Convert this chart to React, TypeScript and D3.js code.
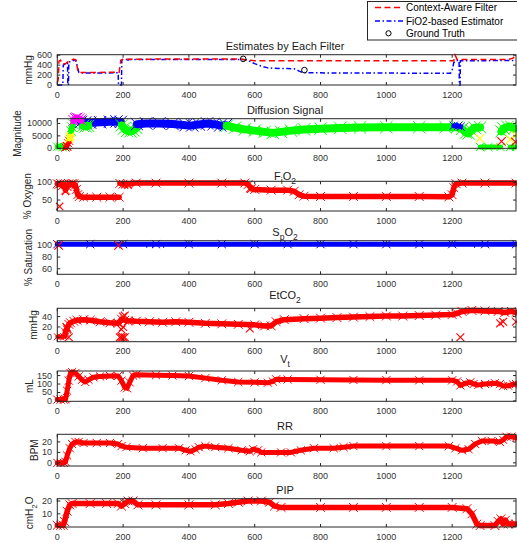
import React, { useRef, useEffect } from 'react';
import * as d3 from 'd3';

const xTicks = [0, 200, 400, 600, 800, 1000, 1200];
const xMax = 1394;

// Estimates by Each Filter (mmHg)
const contextAware = [[0, 50], [3, 120], [5, 480], [10, 500], [14, 430], [25, 430], [35, 480], [50, 520], [57, 500], [62, 300], [66, 250], [100, 250], [150, 255], [188, 255], [193, 500], [200, 520], [400, 522], [560, 522], [575, 500], [600, 490], [800, 490], [1000, 490], [1205, 490], [1209, 600], [1215, 515], [1300, 515], [1370, 515], [1385, 540], [1392, 600]];
const fio2Estimator = [[0, 0], [17, 0], [18, 400], [25, 430], [31, 450], [32, 0], [34, 0], [35, 460], [45, 480], [55, 510], [60, 400], [65, 260], [70, 240], [100, 240], [185, 245], [186, 0], [195, 0], [196, 500], [200, 510], [210, 515], [213, 470], [216, 515], [400, 515], [560, 515], [575, 510], [590, 460], [600, 430], [620, 380], [640, 345], [660, 335], [700, 330], [720, 325], [735, 280], [745, 255], [760, 245], [1000, 240], [1195, 235], [1200, 300], [1205, 450], [1212, 495], [1221, 495], [1222, 0], [1224, 0], [1225, 490], [1300, 490], [1394, 495]];
const groundTruth = [[565, 527], [751, 300]];

// Diffusion Signal
const diffGreenStart = [[0, 600], [8, 700], [16, 500], [24, 600]];
const diffRedRise = [[25, 300], [29, 900], [33, 2000], [36, 3000]];
const diffYellow = [[37, 3800], [40, 5000], [42, 6000]];
const diffGreenRise = [[42, 7000], [45, 8500], [48, 9800]];
const diffBlueA = [[72, 10600], [85, 10400], [100, 10300], [130, 10500], [160, 10700], [180, 10800], [193, 10600]];
const diffGreenBlob = [[78, 9000], [86, 8800], [94, 9000]];
const diffMagenta = [[50, 11200], [55, 12000], [60, 12200], [66, 11900], [72, 11400]];
const diffGreenDip = [[196, 9200], [203, 8000], [212, 7000], [222, 6800], [232, 7200], [240, 8200]];
const diffBlueB = [[242, 9700], [270, 10000], [310, 10000], [350, 9800], [390, 9300], [410, 9200], [430, 9600], [455, 10000], [475, 9700], [495, 9200], [512, 9300]];
const diffGreenLong = [[515, 9000], [540, 8300], [570, 7600], [600, 7100], [630, 6600], [655, 6200], [680, 6600], [710, 7100], [750, 7600], [800, 7900], [860, 8200], [920, 8400], [1000, 8500], [1100, 8500], [1180, 8500], [1215, 8500], [1230, 7800], [1242, 6300], [1250, 6000], [1258, 7200], [1268, 8300], [1285, 8400]];
const diffBlueC = [[1205, 9100], [1218, 9000], [1226, 8700]];
const diffGreenZeroA = [[1285, 500], [1310, 500], [1347, 500]];
const diffGreenEnd = [[1350, 6800], [1356, 8000], [1368, 8600], [1380, 8600], [1388, 8000]];
const diffGreenZeroB = [[1376, 500], [1394, 500]];
const diffYellowX = [[1284, 4000], [1377, 3600], [1393, 5200], [38, 4600]];
const diffRedX = [[1350, 2800], [1392, 2600], [30, 800]];

// FiO2 (% oxygen)
const fio2 = [[0, 96], [5, 94], [10, 97], [15, 90], [20, 95], [25, 78], [30, 88], [35, 96], [40, 93], [45, 97], [50, 96], [55, 92], [58, 80], [62, 65], [67, 60], [80, 58], [120, 58], [160, 58], [188, 58], [189, null], [190, 97], [200, 95], [215, 96], [240, 98], [300, 98], [400, 98], [500, 98], [570, 98], [580, 94], [590, 82], [600, 80], [650, 78], [700, 78], [720, 75], [735, 65], [750, 61], [800, 60], [900, 60], [1000, 60], [1100, 60], [1190, 59], [1200, 65], [1205, 85], [1212, 96], [1230, 98], [1300, 98], [1394, 98]];
const fio2X = [[7, 32], [25, 74], [205, 93], [215, 92], [585, 82]];

// SpO2 (% saturation)
const spo2 = [[0, 102], [100, 102], [200, 102], [300, 102], [400, 102], [500, 102], [600, 102], [700, 102], [800, 102], [900, 102], [1000, 102], [1100, 102], [1200, 102], [1300, 102], [1394, 102]];
const spo2Dips = [[272, 97.5], [290, 97.5], [323, 97.5], [1268, 97.5]];
const spo2X = [[4, 100], [186, 100]];

// EtCO2 (mmHg)
const etco2Zero = [[0, 1], [10, 1], [20, 1], [25, 2]];
const etco2 = [[25, 10], [30, 18], [35, 25], [40, 28], [50, 31], [60, 33], [80, 34], [100, 33], [130, 30], [160, 28], [185, 27], [195, 35], [205, 33], [215, 32], [240, 31], [280, 30], [320, 29], [360, 30], [400, 29], [450, 27], [500, 26], [550, 25], [600, 24], [630, 22], [650, 22], [665, 30], [690, 34], [750, 36], [800, 37], [850, 38], [900, 39], [950, 40], [1000, 41], [1050, 41], [1100, 42], [1150, 43], [1200, 44], [1215, 46], [1230, 50], [1260, 52], [1300, 51], [1340, 50], [1360, 48], [1380, 50], [1394, 48]];
const etco2X = [[35, 0], [190, 0], [195, 0], [200, 0], [205, 0], [585, 17], [1225, 0], [1346, 27], [1355, 30], [1394, 30], [200, 40], [205, 42], [195, 15], [200, 20], [30, 15], [28, 20]];

// Vt (mL)
const vt = [[0, 8], [10, 8], [20, 8], [25, 10], [30, 60], [35, 120], [40, 165], [45, 170], [55, 165], [65, 145], [75, 125], [85, 112], [95, 125], [110, 140], [130, 145], [160, 148], [185, 148], [195, 120], [205, 80], [212, 75], [220, 110], [230, 150], [240, 155], [300, 152], [350, 150], [400, 147], [450, 135], [500, 122], [550, 112], [600, 110], [640, 108], [655, 115], [665, 128], [700, 127], [800, 125], [900, 124], [1000, 123], [1100, 122], [1200, 122], [1215, 115], [1225, 92], [1240, 105], [1255, 110], [1265, 100], [1280, 95], [1300, 100], [1330, 105], [1345, 100], [1355, 88], [1370, 90], [1385, 98], [1394, 100]];

// RR (BPM)
const rr = [[0, 0], [10, 0], [20, 0], [25, 1], [30, 7], [38, 14], [45, 18], [55, 20], [65, 20], [80, 19], [120, 19], [160, 19], [185, 18], [195, 16], [210, 15], [260, 14], [320, 14], [370, 14], [390, 12], [405, 11], [420, 13], [430, 15], [450, 16], [480, 15], [520, 14], [560, 12], [585, 11], [595, 13], [610, 12], [620, 10], [680, 10], [710, 10], [740, 12], [780, 14], [840, 14], [870, 15], [900, 16], [1000, 16], [1100, 16], [1190, 16], [1210, 14], [1230, 12], [1250, 13], [1270, 18], [1290, 21], [1320, 21], [1345, 20], [1355, 22], [1365, 25], [1380, 25], [1394, 24]];

// PIP (cmH2O)
const pip = [[0, 1], [10, 1], [18, 1], [22, 4], [30, 12], [38, 17], [45, 18], [100, 18], [150, 18], [185, 18], [195, 16], [205, 18], [215, 20], [230, 20], [245, 17], [300, 17], [400, 17], [480, 17], [520, 18], [550, 19], [580, 20], [620, 20], [645, 19], [660, 16], [680, 15], [800, 15], [900, 15], [1000, 15], [1100, 15], [1200, 15], [1245, 14], [1260, 10], [1275, 2], [1285, 0.8], [1330, 0.8], [1340, 4], [1348, 6], [1355, 2], [1362, 5], [1370, 2], [1394, 2]];

const RED = '#ff0000';
const BLUE = '#0000ff';
const GREEN = '#00ff00';
const MAGENTA = '#ff00ff';
const YELLOW = '#ffff00';

const panels = [
  { top: 54.7, bottom: 85, domain: [0, 610], ticks: [0, 200, 400, 600], title: [['Estimates by Each Filter']], titleY: 50, label: [['mmHg']], labelX: 31.5 },
  { top: 118.7, bottom: 148.3, domain: [0, 11900], ticks: [0, 5000, 10000], title: [['Diffusion Signal']], titleY: 114, label: [['Magnitude']], labelX: 20.5 },
  { top: 181.3, bottom: 211, domain: [19, 103], ticks: [50, 100], title: [['F'], ['i', 1], ['O'], ['2', 1]], titleY: 179.5, label: [['% Oxygen']], labelX: 31 },
  { top: 240.7, bottom: 274.3, domain: [50.5, 108], ticks: [60, 80, 100], title: [['S'], ['p', 1], ['O'], ['2', 1]], titleY: 236, label: [['% Saturation']], labelX: 32 },
  { top: 308.3, bottom: 341.7, domain: [-8.5, 56], ticks: [0, 20, 40], title: [['EtCO'], ['2', 1]], titleY: 299, label: [['mmHg']], labelX: 37 },
  { top: 371, bottom: 401.3, domain: [-2, 177], ticks: [0, 50, 100, 150], title: [['V'], ['t', 1]], titleY: 362.5, label: [['mL']], labelX: 33 },
  { top: 434.3, bottom: 466, domain: [-3, 27.3], ticks: [0, 10, 20], title: [['RR']], titleY: 430, label: [['BPM']], labelX: 37.5 },
  { top: 498.7, bottom: 527, domain: [-0.3, 21.8], ticks: [0, 10, 20], title: [['PIP']], titleY: 493.5, label: [['cmH'], ['2', 1], ['O']], labelX: 33 },
];

const AXIS = '#262626';
const FONT = 'Liberation Sans, Arial, Helvetica, sans-serif';

function App() {
  const ref = useRef(null);

  useEffect(() => {
    const svg = d3.select(ref.current);
    svg.selectAll('*').remove();

    const x = d3.scaleLinear().domain([0, xMax]).range([57.3, 516]);

    const xSym = (r) => d3.symbol(d3.symbolX).size((r / 0.4431) ** 2 + 2)();

    function band(g, y, data, color, width) {
      const line = d3.line().defined(d => d[1] != null).x(d => x(d[0])).y(d => y(d[1]));
      g.append('path').attr('d', line(data)).attr('fill', 'none').attr('stroke', color)
        .attr('stroke-width', width).attr('stroke-linejoin', 'round').attr('stroke-linecap', 'round');
      g.selectAll(null).data(data.filter(d => d[1] != null)).enter().append('path')
        .attr('d', xSym(width / 2 + 0.4))
        .attr('transform', d => `translate(${x(d[0])},${y(d[1])})`)
        .attr('fill', 'none').attr('stroke', color).attr('stroke-width', 1);
    }

    function crosses(g, y, data, color, r = 2.6) {
      g.selectAll(null).data(data).enter().append('path')
        .attr('d', xSym(r))
        .attr('transform', d => `translate(${x(d[0])},${y(d[1])})`)
        .attr('fill', 'none').attr('stroke', color).attr('stroke-width', 1.1);
    }

    function richText(t, parts, subSize) {
      let shifted = false;
      parts.forEach(([s, sub]) => {
        const ts = t.append('tspan').text(s);
        if (sub && !shifted) { ts.attr('dy', 4).attr('font-size', subSize); shifted = true; }
        else if (!sub && shifted) { ts.attr('dy', -4); shifted = false; }
        else if (sub) ts.attr('font-size', subSize);
      });
    }

    const drawers = [
      (g, y) => {
        g.append('path').attr('d', d3.line().x(d => x(d[0])).y(d => y(d[1]))(fio2Estimator))
          .attr('fill', 'none').attr('stroke', BLUE).attr('stroke-width', 1.5).attr('stroke-dasharray', '5,2.5,1.5,2.5');
        g.append('path').attr('d', d3.line().x(d => x(d[0])).y(d => y(d[1]))(contextAware))
          .attr('fill', 'none').attr('stroke', RED).attr('stroke-width', 1.5).attr('stroke-dasharray', '6,3.5');
        g.selectAll(null).data(groundTruth).enter().append('circle')
          .attr('cx', d => x(d[0])).attr('cy', d => y(d[1])).attr('r', 2.8)
          .attr('fill', 'none').attr('stroke', '#000').attr('stroke-width', 1);
      },
      (g, y) => {
        const w = 8;
        band(g, y, diffGreenStart, GREEN, 5);
        band(g, y, diffRedRise, RED, 5);
        band(g, y, diffYellow, YELLOW, 5);
        band(g, y, diffGreenRise, GREEN, 6);
        band(g, y, diffBlueA, BLUE, w);
        band(g, y, diffGreenBlob, GREEN, w);
        band(g, y, diffMagenta, MAGENTA, 7);
        band(g, y, diffGreenDip, GREEN, w);
        band(g, y, diffBlueB, BLUE, w);
        band(g, y, diffGreenLong, GREEN, w);
        band(g, y, diffBlueC, BLUE, 5);
        band(g, y, diffGreenZeroA, GREEN, 5);
        band(g, y, diffGreenEnd, GREEN, w);
        band(g, y, diffGreenZeroB, GREEN, 5);
        crosses(g, y, diffYellowX, YELLOW, 3);
        crosses(g, y, diffRedX, RED, 3);
      },
      (g, y) => {
        band(g, y, fio2, RED, 5.5);
        crosses(g, y, fio2X, RED);
      },
      (g, y) => {
        band(g, y, spo2, BLUE, 5);
        g.selectAll(null).data(spo2Dips).enter().append('rect')
          .attr('x', d => x(d[0]) - 0.5).attr('y', d => y(d[1]) - 1).attr('width', 1).attr('height', 2).attr('fill', BLUE);
        crosses(g, y, spo2X, RED, 3);
      },
      (g, y) => {
        band(g, y, etco2Zero, RED, 4);
        band(g, y, etco2, RED, 5.5);
        crosses(g, y, etco2X, RED, 2.8);
      },
      (g, y) => band(g, y, vt, RED, 5),
      (g, y) => band(g, y, rr, RED, 5),
      (g, y) => band(g, y, pip, RED, 5.5),
    ];

    panels.forEach((p, i) => {
      const y = d3.scaleLinear().domain(p.domain).range([p.bottom, p.top]);
      const [x0, x1] = x.range();

      // markers are left unclipped, like the original figure
      const plot = svg.append('g');
      drawers[i](plot, y);

      const ax = svg.append('g').attr('stroke', AXIS).attr('stroke-width', 1).attr('fill', 'none');
      ax.append('rect').attr('x', x0).attr('y', p.top).attr('width', x1 - x0).attr('height', p.bottom - p.top);
      xTicks.forEach(t => {
        const xx = x(t);
        ax.append('line').attr('x1', xx).attr('x2', xx).attr('y1', p.bottom).attr('y2', p.bottom - 3);
        ax.append('line').attr('x1', xx).attr('x2', xx).attr('y1', p.top).attr('y2', p.top + 3);
      });
      p.ticks.forEach(t => {
        const yy = y(t);
        ax.append('line').attr('x1', x0).attr('x2', x0 + 3).attr('y1', yy).attr('y2', yy);
        ax.append('line').attr('x1', x1).attr('x2', x1 - 3).attr('y1', yy).attr('y2', yy);
      });

      const lbl = svg.append('g').attr('font-family', FONT).attr('font-size', 9).attr('fill', '#333');
      lbl.selectAll(null).data(xTicks).enter().append('text')
        .attr('x', d => x(d)).attr('y', p.bottom + 12.5).attr('text-anchor', 'middle').text(d => d);
      lbl.selectAll(null).data(p.ticks).enter().append('text')
        .attr('x', 52).attr('y', d => y(d) + 3).attr('text-anchor', 'end').text(d => d);

      const title = svg.append('text').attr('x', 285).attr('y', p.titleY).attr('text-anchor', 'middle')
        .attr('font-family', FONT).attr('font-size', 11).attr('fill', '#1a1a1a');
      richText(title, p.title, 8.5);

      const cy = (p.top + p.bottom) / 2;
      const ylab = svg.append('text').attr('transform', `translate(${p.labelX},${cy}) rotate(-90)`)
        .attr('text-anchor', 'middle').attr('font-family', FONT).attr('font-size', 10).attr('fill', '#262626');
      richText(ylab, p.label, 8);
    });

    // legend
    const lg = svg.append('g');
    lg.append('rect').attr('x', 367.5).attr('y', 1.5).attr('width', 200).attr('height', 38.5)
      .attr('fill', '#fff').attr('stroke', AXIS).attr('stroke-width', 1);
    lg.append('line').attr('x1', 375).attr('x2', 403).attr('y1', 7.5).attr('y2', 7.5)
      .attr('stroke', RED).attr('stroke-width', 1.5).attr('stroke-dasharray', '6,3.5');
    lg.append('line').attr('x1', 375).attr('x2', 403).attr('y1', 21).attr('y2', 21)
      .attr('stroke', BLUE).attr('stroke-width', 1.5).attr('stroke-dasharray', '5,2.5,1.5,2.5');
    lg.append('circle').attr('cx', 388.5).attr('cy', 33.3).attr('r', 2.6)
      .attr('fill', 'none').attr('stroke', '#000').attr('stroke-width', 1);
    const legendItems = ['Context-Aware Filter', 'FiO2-based Estimator', 'Ground Truth'];
    const legendY = [11, 24.5, 37];
    lg.selectAll(null).data(legendItems).enter().append('text')
      .attr('x', 406).attr('y', (d, i) => legendY[i]).attr('font-family', FONT).attr('font-size', 10)
      .attr('fill', '#000').text(d => d);
  }, []);

  return (
    <svg ref={ref} width={517} height={543} style={{ position: 'absolute', left: 0, top: 0, background: '#fff' }}></svg>
  );
}

export default App;
